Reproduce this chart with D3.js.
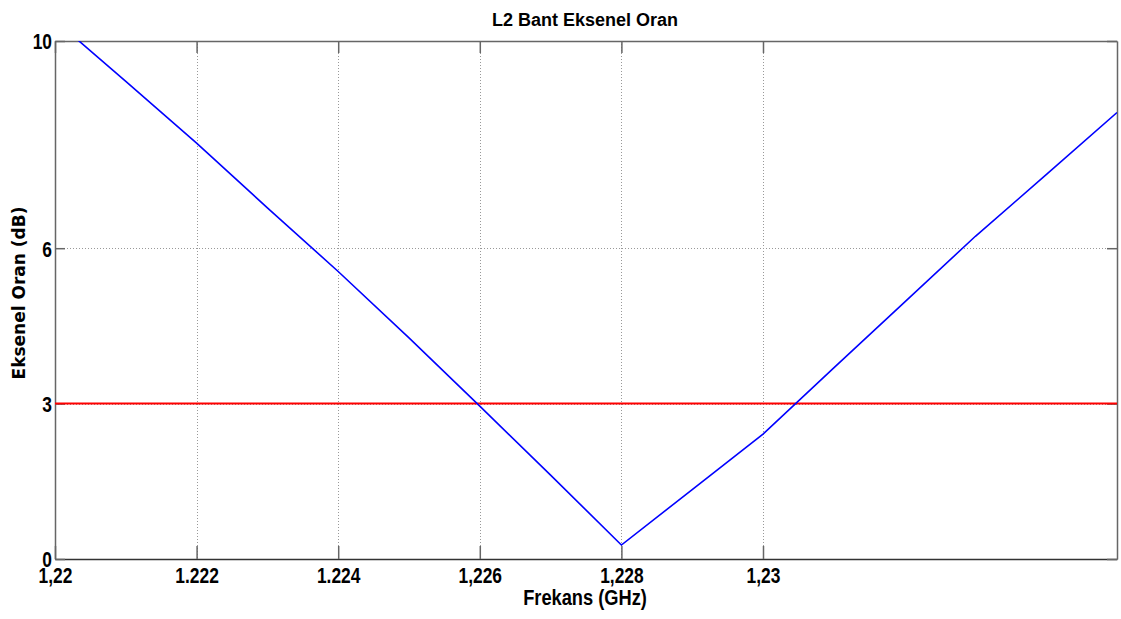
<!DOCTYPE html>
<html><head><meta charset="utf-8">
<script src="https://cdn.jsdelivr.net/npm/d3@7"></script>
<style>
html,body{margin:0;padding:0;background:#fff;}
svg{display:block;}
</style></head>
<body>
<svg id="chart" width="1121" height="619"></svg>
<script>
// ---- data ----
const freq = [1.220, 1.221, 1.222, 1.223, 1.224, 1.225, 1.226, 1.227, 1.228, 1.229, 1.230, 1.231, 1.232, 1.233, 1.234, 1.235];
const axialRatio = [10.40, 9.22, 8.03, 6.78, 5.55, 4.27, 2.95, 1.62, 0.27, 1.34, 2.41, 3.69, 4.96, 6.23, 7.42, 8.62];
const threshold = [3, 3];
const thresholdFreq = [1.220, 1.235];
const xTickValues = [1.220, 1.222, 1.224, 1.226, 1.228, 1.230];
const xTickLabels = ["1,22", "1.222", "1.224", "1,226", "1,228", "1,23"];
const yTickValues = [0, 3, 6, 10];
const yTickLabels = ["0", "3", "6", "10"];
const titleText = "L2 Bant Eksenel Oran";
const xLabelText = "Frekans (GHz)";
const yLabelText = "Eksenel Oran (dB)";

// ---- layout ----
const L = 55, R = 1117, T = 41, B = 559;
const svg = d3.select("#chart");
const x = d3.scaleLinear().domain([1.220, 1.235]).range([L, R]);
const y = d3.scaleLinear().domain([0, 10]).range([B, T]);

const sans = "'Liberation Sans', Arial, Helvetica, sans-serif";
const SX = 0.79; // horizontal condensing for tick labels

// grid
const grid = svg.append("g");
grid.selectAll("line.vx").data(xTickValues.slice(1)).join("line")
  .attr("x1", d => Math.round(x(d)) + 0.5).attr("x2", d => Math.round(x(d)) + 0.5)
  .attr("y1", T).attr("y2", B)
  .attr("stroke", "#999").attr("stroke-width", 1).attr("stroke-dasharray", "1,2");
grid.selectAll("line.hy").data(yTickValues.slice(1, -1)).join("line")
  .attr("x1", L).attr("x2", R)
  .attr("y1", d => Math.round(y(d)) + 0.5).attr("y2", d => Math.round(y(d)) + 0.5)
  .attr("stroke", "#999").attr("stroke-width", 1).attr("stroke-dasharray", "1,2");

// axes (ticks inward)
const fmtX = (d) => xTickLabels[xTickValues.indexOf(d)];
const fmtY = (d) => yTickLabels[yTickValues.indexOf(d)];
const xb = svg.append("g").attr("transform", `translate(0,${B})`)
  .call(d3.axisBottom(x).tickValues(xTickValues).tickFormat(fmtX).tickSizeInner(-13).tickSizeOuter(0));
const xt = svg.append("g").attr("transform", `translate(0,${T})`)
  .call(d3.axisTop(x).tickValues(xTickValues).tickFormat("").tickSizeInner(-12).tickSizeOuter(0));
const yl = svg.append("g").attr("transform", `translate(${L},0)`)
  .call(d3.axisLeft(y).tickValues(yTickValues).tickFormat(fmtY).tickSizeInner(-10).tickSizeOuter(0));
const yr = svg.append("g").attr("transform", `translate(${R},0)`)
  .call(d3.axisRight(y).tickValues(yTickValues).tickFormat("").tickSizeInner(-10).tickSizeOuter(0));
[xb, xt, yl, yr].forEach(g => {
  g.selectAll("path.domain").attr("stroke", "#666").attr("stroke-width", 1.5);
  g.selectAll(".tick line").attr("stroke", "#666").attr("stroke-width", 1.5);
  g.selectAll(".tick text").attr("fill", "#000").attr("font-family", sans)
    .attr("font-weight", "bold").attr("font-size", 22);
});
xb.select("path.domain").attr("stroke", "#333");
xb.selectAll(".tick text").attr("y", 24).attr("dy", 0).attr("x", 0)
  .attr("transform", `scale(${SX},1)`);
yl.selectAll(".tick text").attr("x", -3 / SX).attr("dy", "0.36em")
  .attr("transform", `scale(${SX},1)`);

// clip
svg.append("clipPath").attr("id", "clip").append("rect")
  .attr("x", L).attr("y", T).attr("width", R - L).attr("height", B - T);

// threshold line
svg.append("path").datum(thresholdFreq.map((f, i) => [f, threshold[i]]))
  .attr("clip-path", "url(#clip)")
  .attr("fill", "none").attr("stroke", "#ff0000").attr("stroke-width", 2)
  .attr("d", d3.line().x(d => x(d[0])).y(d => y(d[1])));

// data line
svg.append("path").datum(freq.map((f, i) => [f, axialRatio[i]]))
  .attr("clip-path", "url(#clip)")
  .attr("fill", "none").attr("stroke", "#0000ff").attr("stroke-width", 1.6)
  .attr("d", d3.line().x(d => x(d[0])).y(d => y(d[1])));

// labels
svg.append("text").attr("x", 585).attr("y", 26).attr("text-anchor", "middle")
  .attr("font-family", sans).attr("font-weight", "bold")
  .attr("font-size", 18).text(titleText);
svg.append("text").attr("transform", "translate(585,605) scale(0.83,1)").attr("text-anchor", "middle")
  .attr("font-family", sans).attr("font-weight", "bold")
  .attr("font-size", 22).text(xLabelText);
svg.append("text").attr("transform", "translate(25,293) rotate(-90)").attr("text-anchor", "middle")
  .attr("font-family", "'DejaVu Sans', Verdana, sans-serif").attr("font-weight", "bold")
  .attr("font-size", 17).text(yLabelText);
</script>
</body></html>
